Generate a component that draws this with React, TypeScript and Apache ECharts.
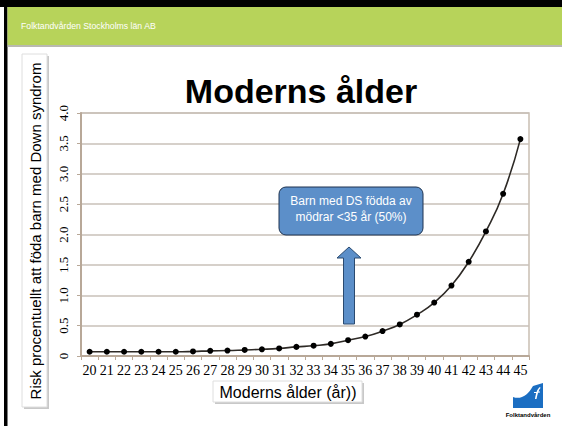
import React, { useEffect, useRef } from "react";
import * as echarts from "echarts";

const ages = ["20","21","22","23","24","25","26","27","28","29","30","31","32","33","34","35","36","37","38","39","40","41","42","43","44","45"];
const risk = [0.07,0.07,0.07,0.07,0.07,0.07,0.075,0.085,0.09,0.1,0.11,0.125,0.15,0.17,0.2,0.26,0.32,0.41,0.52,0.68,0.88,1.16,1.55,2.05,2.67,3.57];
const yTicks = [0, 0.5, 1, 1.5, 2, 2.5, 3, 3.5, 4];

const titleText = "Moderns ålder";
const headerText = "Folktandvården Stockholms län AB";
const yTitle = "Risk procentuellt att föda barn med Down syndrom";
const xTitle = "Moderns ålder (år))";
const noteLines = ["Barn med DS födda av", "mödrar <35 år (50%)"];

echarts.graphic.registerShape(
  "ftvwave",
  echarts.graphic.extendPath("M0 14 C8 17 15 12 20 3 L30 0 L30 25 L0 25 Z", {})
);
echarts.graphic.registerShape(
  "ftvf",
  echarts.graphic.extendPath("M22 16 C23 10 24 6 27 4 L27.5 5 C25.5 7 24.5 11 23.5 16 Z M21 9 L27 8.5 L27 9.5 L21 10 Z", {})
);

export default function App() {
  const ref = useRef<HTMLDivElement>(null);
  useEffect(() => {
    if (!ref.current) return;
    const chart = echarts.init(ref.current, undefined, { renderer: "svg" });
    const sans = "'Liberation Sans', Arial, sans-serif";
    const serif = "'Liberation Serif', 'Times New Roman', serif";
    chart.setOption({
      animation: false,
      backgroundColor: "#ffffff",
      grid: {
        left: 81,
        right: 33,
        top: 113,
        bottom: 70,
        show: true,
        borderColor: "#c9beb2",
        borderWidth: 1.5,
        backgroundColor: "transparent",
      },
      xAxis: {
        type: "category",
        data: ages,
        boundaryGap: true,
        axisLine: { lineStyle: { color: "#b8a898", width: 2 } },
        axisTick: { show: true, length: 4, lineStyle: { color: "#b8a898" } },
        axisLabel: { color: "#000", fontFamily: serif, fontSize: 14, margin: 7, interval: 0 },
        splitLine: { show: false },
      },
      yAxis: {
        type: "value",
        min: 0,
        max: 4,
        interval: 0.5,
        axisLine: { show: true, lineStyle: { color: "#b8a898", width: 2 } },
        axisTick: { show: true, length: 4, lineStyle: { color: "#b8a898" } },
        axisLabel: {
          color: "#000",
          fontFamily: serif,
          fontSize: 13,
          rotate: 90,
          margin: 11,
          formatter: (v: number) => (yTicks.indexOf(v) === 0 ? "0" : v.toFixed(1)),
        },
        splitLine: { lineStyle: { color: "#c9c1b8", width: 1.5 } },
      },
      series: [
        {
          type: "line",
          data: risk,
          smooth: true,
          symbol: "circle",
          symbolSize: 6,
          lineStyle: { color: "#2e2a26", width: 1.6 },
          itemStyle: { color: "#000" },
          z: 5,
        },
      ],
      graphic: [
        { type: "rect", shape: { x: 0, y: 0, width: 562, height: 7 }, style: { fill: "#000" }, z: 10 },
        { type: "rect", shape: { x: 4, y: 0, width: 3.5, height: 426 }, style: { fill: "#000" }, z: 10 },
        { type: "rect", shape: { x: 7.5, y: 45, width: 555, height: 2 }, style: { fill: "#b9b9b0" }, z: 10 },
        { type: "rect", shape: { x: 7.5, y: 7, width: 555, height: 38 }, style: { fill: "#b7d35a" }, z: 10 },
        {
          type: "text", x: 21, y: 26,
          style: { text: headerText, fill: "#ffffff", fontFamily: sans, fontSize: 8.7, verticalAlign: "middle" }, z: 11,
        },
        {
          type: "text", x: 301, y: 91,
          style: { text: titleText, fill: "#000", fontFamily: sans, fontWeight: "bold", fontSize: 34, align: "center", verticalAlign: "middle" }, z: 11,
        },
        // y title box
        { type: "rect", shape: { x: 24, y: 56, width: 25, height: 353 }, style: { fill: "#c8c8c8" }, z: 10 },
        { type: "rect", shape: { x: 22, y: 54, width: 25, height: 353 }, style: { fill: "#ffffff", stroke: "#dedede", lineWidth: 1 }, z: 11 },
        {
          type: "text", x: 35, y: 231, rotation: Math.PI / 2,
          style: { text: yTitle, fill: "#000", fontFamily: sans, fontSize: 15, align: "center", verticalAlign: "middle" }, z: 12,
        },
        // x title box
        { type: "rect", shape: { x: 215, y: 383, width: 149, height: 21 }, style: { fill: "#c8c8c8" }, z: 10 },
        { type: "rect", shape: { x: 213, y: 381, width: 149, height: 21 }, style: { fill: "#ffffff", stroke: "#dedede", lineWidth: 1 }, z: 11 },
        {
          type: "text", x: 288, y: 392,
          style: { text: xTitle, fill: "#000", fontFamily: sans, fontSize: 16, align: "center", verticalAlign: "middle" }, z: 12,
        },
        // annotation box
        {
          type: "rect", shape: { x: 279, y: 187, width: 144, height: 48, r: 7 },
          style: { fill: "#5c8fc9", stroke: "#1e3350", lineWidth: 1 }, z: 11,
        },
        {
          type: "text", x: 351, y: 201,
          style: { text: noteLines[0], fill: "#ffffff", fontFamily: sans, fontSize: 12, align: "center", verticalAlign: "middle" }, z: 12,
        },
        {
          type: "text", x: 351, y: 217,
          style: { text: noteLines[1], fill: "#ffffff", fontFamily: sans, fontSize: 12, align: "center", verticalAlign: "middle" }, z: 12,
        },
        // arrow
        {
          type: "polygon",
          shape: { points: [[343.5, 324], [354.5, 324], [354.5, 258], [361, 258], [349, 247], [337, 258], [343.5, 258]] },
          style: { fill: "#5c8fc9", stroke: "#2a4a70", lineWidth: 1 }, z: 11,
        },
        // logo
        { type: "rect", shape: { x: 513, y: 383, width: 30, height: 25 }, style: { fill: "#ffffff" }, z: 11 },
        { type: "ftvwave", x: 513, y: 383, style: { fill: "#1b6ec2" }, z: 12 },
        { type: "ftvf", x: 513, y: 383, style: { fill: "#ffffff" }, z: 13 },
        {
          type: "text", x: 528, y: 415,
          style: { text: "Folktandvården", fill: "#000", fontFamily: sans, fontWeight: "bold", fontSize: 6, align: "center", verticalAlign: "middle" }, z: 12,
        },
      ],
    });
    return () => chart.dispose();
  }, []);
  return (
    <div
      ref={ref}
      style={{ position: "fixed", left: 0, top: 0, width: 562, height: 426 }}
    />
  );
}
